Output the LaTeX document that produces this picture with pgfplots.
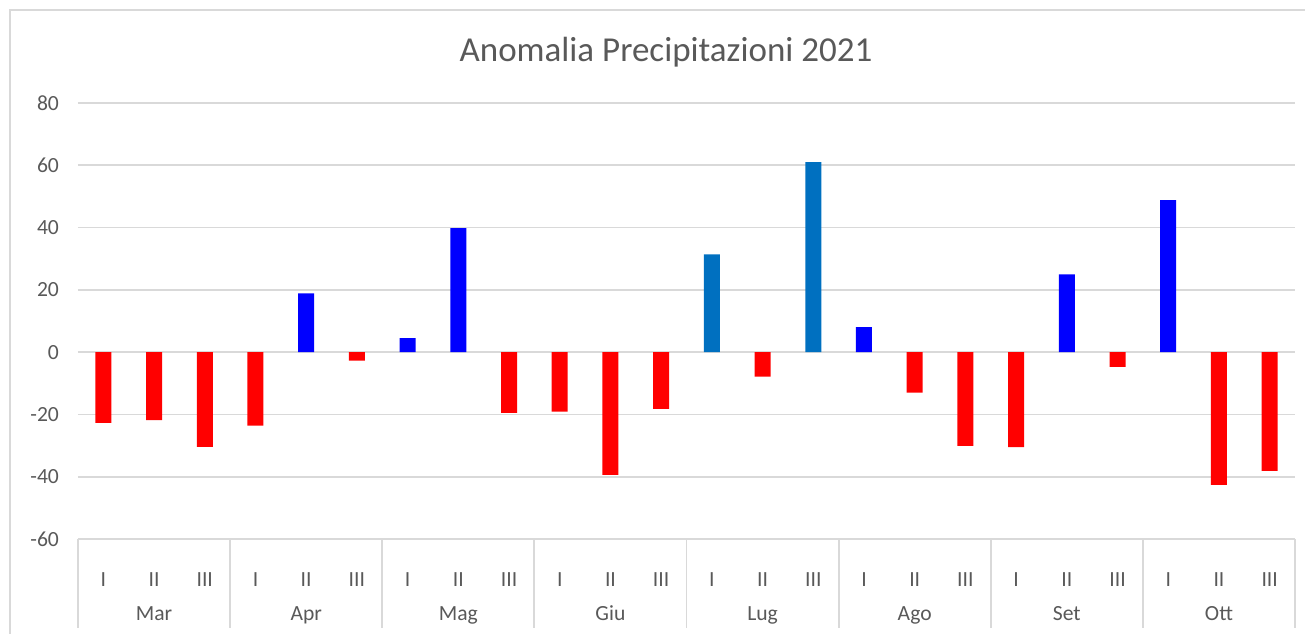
\documentclass[border=0pt]{standalone}
\usepackage{pgfplots}
\pgfplotsset{compat=1.18}
\usepackage{fontspec}
\setmainfont{Carlito}
\definecolor{gridgray}{HTML}{D9D9D9}
\definecolor{txtgray}{HTML}{595959}
\definecolor{barred}{HTML}{FF0000}
\definecolor{barblue}{HTML}{0000FF}
\definecolor{barblue2}{HTML}{0070C0}
\tikzset{month/.style={font=\fontsize{10.8}{12}\selectfont, text=txtgray, anchor=base, yshift=-40.5pt},
  sep/.style={draw=gridgray, line width=0.9pt}}
\begin{document}
\begin{tikzpicture}[x=1pt,y=1pt]
\begin{axis}[
  at={(0,0)}, anchor=south west,
  scale only axis, width=608.5pt, height=218pt,
  ybar, bar width=8pt, bar shift=0pt,
  xmin=-0.5, xmax=23.5, ymin=-60, ymax=80,
  ytick={-60,-40,...,80},
  ymajorgrids, major grid style={draw=gridgray, line width=0.9pt},
  axis line style={draw=none},
  y tick style={draw=none},
  x tick style={draw=none},
  xtick={0,...,23},
  xticklabels={I,II,III,I,II,III,I,II,III,I,II,III,I,II,III,I,II,III,I,II,III,I,II,III},
  xtick pos=bottom,
  xticklabel style={font=\fontsize{10.8}{12}\selectfont, text=txtgray, anchor=base, yshift=-19.5pt},
  yticklabel style={font=\fontsize{10.8}{12}\selectfont, text=txtgray, anchor=east, xshift=-6pt},
  /pgf/number format/assume math mode=true,
  clip=false,
]
\addplot[fill=barred, draw=none] coordinates {
 (0,-22.7) (1,-21.8) (2,-30.4) (3,-23.6) (5,-2.7) (8,-19.5) (9,-19.1) (10,-39.4) (11,-18.2)
 (13,-7.9) (16,-13.0) (17,-30.1) (18,-30.5) (20,-4.7) (22,-42.6) (23,-38.1)};
\addplot[fill=barblue, draw=none] coordinates {
 (4,18.9) (6,4.5) (7,39.8) (15,8.0) (19,25.0) (21,48.8)};
\addplot[fill=barblue2, draw=none] coordinates {
 (12,31.4) (14,61.0)};
\draw[sep] (axis cs:-0.5,-60) -- (axis cs:23.5,-60);
\draw[sep] (axis cs:-0.5,-60) -- ([yshift=-44.5pt]axis cs:-0.5,-60);
\draw[sep] (axis cs:2.5,-60) -- ([yshift=-44.5pt]axis cs:2.5,-60);
\draw[sep] (axis cs:5.5,-60) -- ([yshift=-44.5pt]axis cs:5.5,-60);
\draw[sep] (axis cs:8.5,-60) -- ([yshift=-44.5pt]axis cs:8.5,-60);
\draw[sep] (axis cs:11.5,-60) -- ([yshift=-44.5pt]axis cs:11.5,-60);
\draw[sep] (axis cs:14.5,-60) -- ([yshift=-44.5pt]axis cs:14.5,-60);
\draw[sep] (axis cs:17.5,-60) -- ([yshift=-44.5pt]axis cs:17.5,-60);
\draw[sep] (axis cs:20.5,-60) -- ([yshift=-44.5pt]axis cs:20.5,-60);
\draw[sep] (axis cs:23.5,-60) -- ([yshift=-44.5pt]axis cs:23.5,-60);
\node[month] at (axis cs:1,-60) {Mar};
\node[month] at (axis cs:4,-60) {Apr};
\node[month] at (axis cs:7,-60) {Mag};
\node[month] at (axis cs:10,-60) {Giu};
\node[month] at (axis cs:13,-60) {Lug};
\node[month] at (axis cs:16,-60) {Ago};
\node[month] at (axis cs:19,-60) {Set};
\node[month] at (axis cs:22,-60) {Ott};
\end{axis}
\node[font=\fontsize{17.5}{20}\selectfont, text=txtgray] at (294pt,243.5pt) {Anomalia Precipitazioni 2021};
\draw[gridgray, line width=0.6pt] (-34pt,-60pt) -- (-34pt,264.5pt) -- (620pt,264.5pt);
\pgfresetboundingbox
\path[use as bounding box] (-39pt,-47pt) rectangle (613.5pt,269.5pt);
\end{tikzpicture}
\end{document}
